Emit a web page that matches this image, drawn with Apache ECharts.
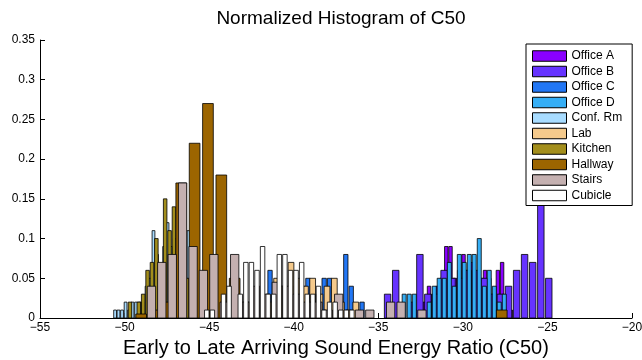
<!DOCTYPE html>
<html><head><meta charset="utf-8">
<script src="https://cdn.jsdelivr.net/npm/echarts@6/dist/echarts.min.js"></script>
<style>html,body{margin:0;padding:0;background:#fff}#c{width:642px;height:360px}</style>
</head><body><div id="c"></div>
<script>
// ---- data ----
const titleText = 'Normalized Histogram of C50';
const xAxisTitle = 'Early to Late Arriving Sound Energy Ratio (C50)';
const seriesNames = ['Office A','Office B','Office C','Office D','Conf. Rm','Lab','Kitchen','Hallway','Stairs','Cubicle'];

const officeA_x = [-32.76,-32.51,-32.25,-32.00,-31.75,-31.49,-31.24,-30.98,-30.73,-30.47,-30.22,-29.96,-29.71,-29.46,-29.20,-28.95,-28.69,-28.44,-28.18,-27.93,-27.68,-27.42,-27.17];
const officeA_y = [0.01,0.02,0.02,0.04,0.03,0.04,0.05,0.09,0.09,0.05,0.06,0.08,0.06,0.07,0.05,0.05,0.06,0.05,0.03,0.06,0.07,0.02,0.01];

const officeB_x = [-34.45,-33.97,-33.50,-33.02,-32.54,-32.07,-31.59,-31.11,-30.64,-30.16,-29.68,-29.21,-28.73,-28.25,-27.78,-27.30,-26.82,-26.35,-25.87,-25.39,-24.92];
const officeB_y = [0.03,0.06,0,0.02,0.08,0.03,0.03,0.06,0.05,0.05,0.06,0.06,0.05,0.03,0.03,0.04,0.06,0.08,0.07,0.17,0.05];

const officeC_x = [-41.40,-41.08,-40.76,-40.44,-40.12,-39.80,-39.48,-39.16,-38.84,-38.52,-38.20,-37.88,-37.56,-37.24,-36.92,-36.60,-36.28,-35.96];
const officeC_y = [0.06,0.03,0.04,0.03,0.04,0.03,0.04,0.05,0.03,0.03,0.05,0.05,0.03,0.02,0.08,0.04,0.01,0.02];

const officeD_x = [-33.47,-33.17,-32.87,-32.58,-32.28,-31.99,-31.69,-31.40,-31.10,-30.80,-30.51,-30.21,-29.92,-29.62,-29.33,-29.03,-28.73,-28.44,-28.14,-27.85,-27.55];
const officeD_y = [0.03,0.03,0.03,0,0,0.02,0.04,0.05,0.05,0.07,0.04,0.08,0.07,0.08,0.08,0.10,0.04,0.06,0.04,0.02,0.03];

const confRm_x = [-50.56,-50.36,-50.15,-49.94,-49.73,-49.53,-49.32,-49.11,-48.91,-48.70,-48.49,-48.29,-48.08,-47.87,-47.66,-47.46,-47.25,-47.04,-46.84,-46.63,-46.42,-46.22,-46.01,-45.80];
const confRm_y = [0.01,0.01,0.01,0.02,0.01,0.02,0.02,0.02,0.02,0.04,0.05,0.11,0.08,0.05,0.09,0.12,0.09,0.10,0.08,0.07,0.06,0.11,0.04,0.02];

const lab_x = [-41.44,-41.01,-40.58,-40.16,-39.73,-39.31,-38.88,-38.45,-38.03,-37.60,-37.18,-36.75,-36.33];
const lab_y = [0.02,0.05,0.04,0.07,0.05,0.04,0.05,0.03,0.04,0.05,0.02,0.01,0.02];

const kitchen_x = [-49.68,-49.42,-49.16,-48.90,-48.64,-48.38,-48.12,-47.86,-47.60,-47.34,-47.08,-46.82,-46.56,-46.30,-46.04,-45.78,-45.52];
const kitchen_y = [0.02,0,0.02,0.03,0.06,0.07,0.10,0.06,0.15,0.11,0.14,0.12,0.10,0.05,0.06,0.03,0.02];

const hallway_x = [-49.02,-48.23,-47.44,-46.65,-45.86,-45.07,-44.28,-43.49,-42.70,-27.70];
const hallway_y = [0.005,0.01,0.02,0.17,0.22,0.27,0.18,0.05,0.02,0.01];

const stairs_x = [-48.41,-47.80,-47.18,-46.57,-45.95,-45.34,-44.72,-44.11,-43.49,-42.88,-42.26,-41.65,-41.03,-40.42,-39.80,-39.19,-38.57,-37.96,-37.34,-36.73,-36.11,-35.50,-34.88,-34.27,-33.65,-33.04,-32.42];
const stairs_y = [0.04,0.07,0.08,0.17,0.09,0.06,0.08,0.02,0.08,0.02,0.04,0.03,0.045,0.04,0.03,0.02,0.02,0.01,0.03,0,0.01,0.01,0,0.02,0.02,0,0.01];

const cubicle_x = [-45.14,-44.81,-44.48,-44.15,-43.82,-43.49,-43.16,-42.83,-42.50,-42.17,-41.84,-41.51,-41.18,-40.85,-40.52,-40.19,-39.86,-39.53,-39.20,-38.87,-38.54,-38.21,-37.88,-37.55,-37.22,-36.89,-36.56];
const cubicle_y = [0.01,0.01,0,0.03,0.04,0,0.03,0.07,0.07,0.06,0.09,0.03,0.03,0.08,0.08,0.06,0.06,0.07,0.03,0.03,0.04,0.01,0.02,0.02,0.01,0.01,0.01];

const xTicks = [-55,-50,-45,-40,-35,-30,-25,-20];
const yTicks = [0,0.05,0.1,0.15,0.2,0.25,0.3,0.35];

// ---- bin widths (histogram bin spacing, in x units) ----
const binWidths = [0.2543,0.4766,0.32,0.2957,0.207,0.4258,0.2602,0.7895,0.615,0.33];

// ---- styles ----
const colors = ['#8a00ff','#6633ff','#2277f5','#35aef5','#a8dcff','#f5ca8c','#a38e1c','#9c6500','#c4b0b0','#ffffff'];
const FONT = '"Liberation Sans", Arial, Helvetica, sans-serif';

const xs = [officeA_x,officeB_x,officeC_x,officeD_x,confRm_x,lab_x,kitchen_x,hallway_x,stairs_x,cubicle_x];
const ys = [officeA_y,officeB_y,officeC_y,officeD_y,confRm_y,lab_y,kitchen_y,hallway_y,stairs_y,cubicle_y];

function makeRender(w, color){
  return function(params, api){
    const c = api.value(0), v = api.value(1);
    if (!v) return null;
    const p0 = api.coord([c - w*0.4, 0]);
    const p1 = api.coord([c + w*0.4, v]);
    return {type:'rect',
      shape:{x:p0[0], y:p1[1], width:p1[0]-p0[0], height:p0[1]-p1[1]},
      style:{fill:color, stroke:'#000', lineWidth:0.8}};
  };
}

const series = seriesNames.map((name,i)=>({
  name, type:'custom',
  renderItem: makeRender(binWidths[i], colors[i]),
  itemStyle:{color:colors[i], borderColor:'#000', borderWidth:1},
  encode:{x:0,y:1},
  data: xs[i].map((x,j)=>[x, ys[i][j]])
}));

const chart = echarts.init(document.getElementById('c'), null, {renderer:'canvas'});
chart.setOption({
  animation:false,
  backgroundColor:'#fff',
  title:{text:titleText, left:336, top:4, textAlign:'center',
    textStyle:{fontFamily:FONT, fontSize:19, fontWeight:'normal', color:'#000'}},
  grid:{left:40, right:10, top:40, bottom:42, containLabel:false, outerBoundsMode:'none'},
  legend:{orient:'vertical', left:526, top:44, icon:'rect',
    itemWidth:34, itemHeight:10.5, itemGap:3.5,
    padding:[6,10,4,6], backgroundColor:'#fff', borderColor:'#000', borderWidth:1,
    itemStyle:{borderColor:'#000', borderWidth:1},
    textStyle:{fontFamily:FONT, fontSize:12, color:'#000', lineHeight:12},
    data: seriesNames},
  xAxis:{type:'value', min:xTicks[0], max:xTicks[xTicks.length-1], interval:5,
    name:xAxisTitle, nameLocation:'middle', nameGap:19,
    nameTextStyle:{fontFamily:FONT, fontSize:20, color:'#000'},
    axisLine:{lineStyle:{color:'#000', width:1}},
    axisTick:{inside:true, length:5, lineStyle:{color:'#000'}},
    axisLabel:{fontFamily:FONT, fontSize:12, color:'#000', margin:4,
      formatter: v => String(v).replace('-', '\u2212')},
    splitLine:{show:false}},
  yAxis:{type:'value', min:yTicks[0], max:yTicks[yTicks.length-1], interval:0.05,
    axisLine:{show:true, lineStyle:{color:'#000', width:1}},
    axisTick:{show:true, inside:true, length:5, lineStyle:{color:'#000'}},
    axisLabel:{fontFamily:FONT, fontSize:12, color:'#000', margin:5},
    splitLine:{show:false}},
  series
});
</script></body></html>
